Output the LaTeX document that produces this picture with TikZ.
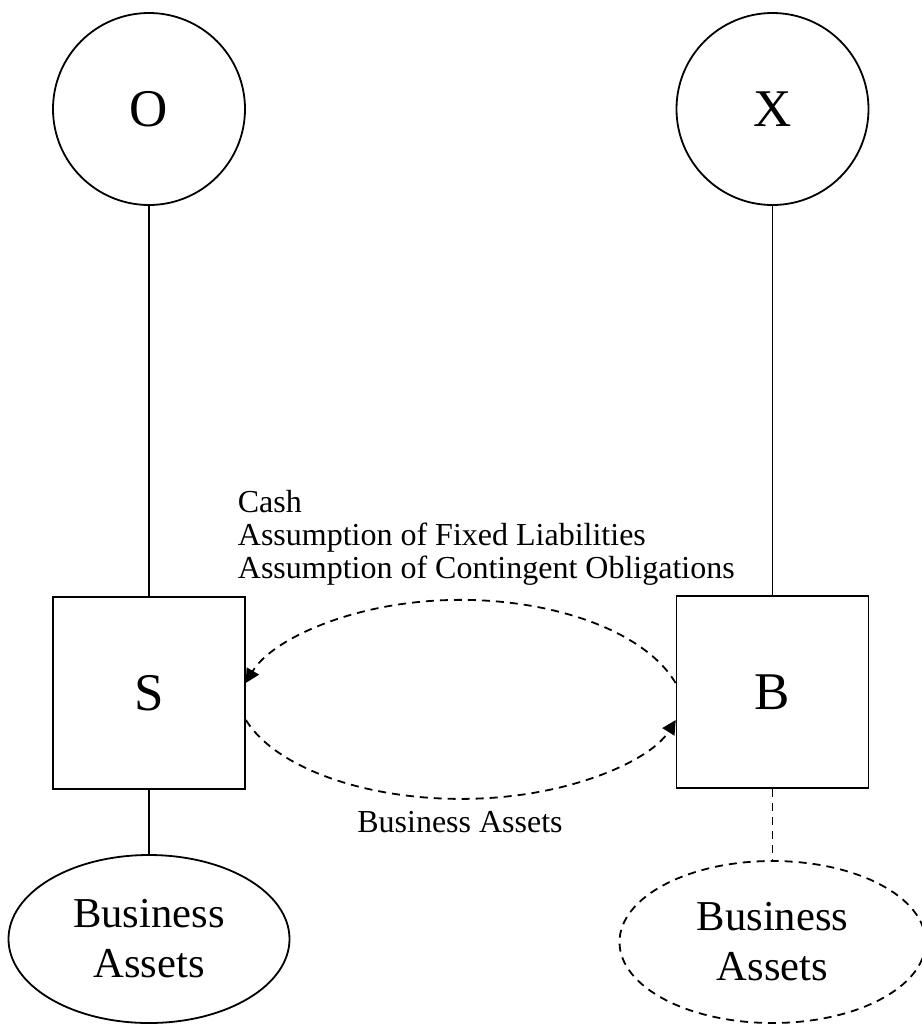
\documentclass[tikz,border=0pt]{standalone}
\usepackage{fontspec}
\setmainfont{Liberation Serif}
\usetikzlibrary{arrows.meta,shapes.geometric}

\begin{document}
\begin{tikzpicture}[x=0.5pt,y=-0.5pt,line width=0.9pt,
    party/.style={circle,draw,minimum size=96pt,inner sep=0pt,font=\fontsize{26.5}{30}\selectfont},
    entity/.style={rectangle,draw,minimum size=96pt,inner sep=0pt,font=\fontsize{26.5}{30}\selectfont},
    assets/.style={ellipse,draw,inner sep=0pt,align=center,font=\fontsize{21.3}{25}\selectfont},
    dashline/.style={dash pattern=on 4pt off 3pt},
    flow/.style={dashline,-{Triangle[length=7pt,width=7pt]}},
    smalltext/.style={inner sep=0pt,font=\fontsize{16}{16.5}\selectfont}]
  \useasboundingbox (0,0) rectangle (922,1024);
  % parents
  \node[party] (O) at (149,109) {O};
  \node[party] (X) at (772.5,109) {X};
  % seller and buyer
  \node[entity] (S) at (149,693) {S};
  \node[entity] (B) at (772.5,692) {B};
  % assets
  \node[assets,minimum width=140.5pt,minimum height=84pt] (SA) at (149,939) {Business\\Assets};
  \node[assets,dashline,minimum width=153pt,minimum height=81pt] (BA) at (772.5,942) {Business\\Assets};
  \draw (O) -- (S);
  \draw (X) -- (B);
  \draw (S) -- (SA);
  \draw[dashline] (B) -- (BA);
  % exchange
  \draw[flow] ([yshift=4.5pt]B.west) arc[start angle=17.2,end angle=162.8,x radius=112.5pt,y radius=59pt];
  \draw[flow] ([yshift=-13.5pt]S.east) arc[start angle=197.2,end angle=342.8,x radius=112.5pt,y radius=56pt];
  \node[smalltext,anchor=north west,align=left] (terms) at (237,489)
    {Cash\\Assumption of Fixed Liabilities\\Assumption of Contingent Obligations};
  \node[smalltext,anchor=base] (moved) at (460,832) {Business Assets};
\end{tikzpicture}
\end{document}
